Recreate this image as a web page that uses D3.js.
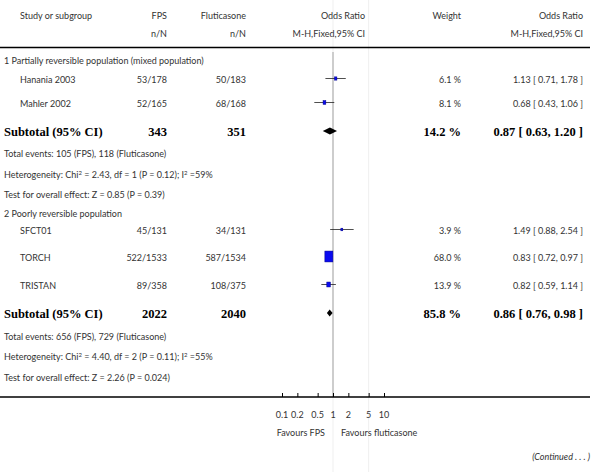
<!DOCTYPE html>
<html>
<head>
<meta charset="utf-8">
<script src="https://cdn.jsdelivr.net/npm/d3@7"></script>
<style>
  body { margin: 0; background: #fff; }
  text { font-family: "Liberation Sans Narrow", "Lato", sans-serif; font-size: 9px; fill: #333; }
  text.bold { font-family: "Liberation Serif", serif; font-weight: bold; font-size: 12.5px; fill: #000; }
</style>
</head>
<body>
<svg id="chart" width="600" height="472"></svg>
<script>
// study level data
var studies = ["Hanania 2003", "Mahler 2002", "SFCT01", "TORCH", "TRISTAN"];
var studyGroup = [1, 1, 2, 2, 2];
var fpsEvents = ["53/178", "52/165", "45/131", "522/1533", "89/358"];
var fluEvents = ["50/183", "68/168", "34/131", "587/1534", "108/375"];
var oddsRatio = [1.13, 0.68, 1.49, 0.83, 0.82];
var ciLow = [0.71, 0.43, 0.88, 0.72, 0.59];
var ciHigh = [1.78, 1.06, 2.54, 0.97, 1.14];
var weights = [6.1, 8.1, 3.9, 68.0, 13.9];

// subgroup totals
var groupNames = ["1 Partially reversible population (mixed population)", "2 Poorly reversible population"];
var subFps = [343, 2022];
var subFlu = [351, 2040];
var subOR = [0.87, 0.86];
var subLow = [0.63, 0.76];
var subHigh = [1.20, 0.98];
var subWeight = [14.2, 85.8];
var totalEvents = ["Total events: 105 (FPS), 118 (Fluticasone)", "Total events: 656 (FPS), 729 (Fluticasone)"];
var hetChi = ["2.43", "4.40"];
var hetDf = [1, 2];
var hetP = ["0.12", "0.11"];
var hetI2 = ["59%", "55%"];
var overallZ = ["Test for overall effect: Z = 0.85 (P = 0.39)", "Test for overall effect: Z = 2.26 (P = 0.024)"];

// axis
var tickValues = [0.1, 0.2, 0.5, 1, 2, 5, 10];
var tickLabels = ["0.1", "0.2", "0.5", "1", "2", "5", "10"];

var svg = d3.select("#chart");

// columns
var col = { group: 4, name: 20, fps: 167, flu: 246, orHead: 365, weight: 461, orText: 583 };

// vertical positions of the rows
var rowsY = {
    group: [61, 214],
    study: [80, 104, 231, 258, 286],
    subtotal: [132, 314],
    events: [154, 337],
    het: [175, 357],
    test: [195, 378]
};
var axisY = 397;

var x = d3.scaleLog().domain([0.1, 10]).range([282, 384]);
var boxSize = d3.scaleSqrt().domain([0, 68]).range([0, 8]);

// faint page lines
svg.selectAll(".faint")
    .data([1, 5])
    .enter()
    .append("line")
    .attr("x1", d => x(d)).attr("x2", d => x(d))
    .attr("y1", 0).attr("y2", 472)
    .attr("stroke", "#efefef")
    .attr("stroke-width", 1);

// line of no effect
svg.append("line")
    .attr("x1", x(1)).attr("x2", x(1))
    .attr("y1", 52).attr("y2", axisY)
    .attr("stroke", "#cdcdcd")
    .attr("stroke-width", 2);

// header
function txt(xp, yp, s, anchor, cls) {
    return svg.append("text")
        .attr("x", xp).attr("y", yp)
        .attr("dy", "0.35em")
        .attr("text-anchor", anchor || "start")
        .attr("class", cls || null)
        .text(s);
}
txt(col.name, 16, "Study or subgroup");
txt(col.fps, 16, "FPS", "end");
txt(col.flu, 16, "Fluticasone", "end");
txt(col.orHead, 16, "Odds Ratio", "end");
txt(col.weight, 16, "Weight", "end");
txt(col.orText, 16, "Odds Ratio", "end");
txt(col.fps, 34, "n/N", "end");
txt(col.flu, 34, "n/N", "end");
txt(col.orHead, 34, "M-H,Fixed,95% CI", "end");
txt(col.orText, 34, "M-H,Fixed,95% CI", "end");

svg.append("line")
    .attr("x1", 0).attr("x2", 590)
    .attr("y1", 47.5).attr("y2", 47.5)
    .attr("stroke", "#000").attr("stroke-width", 1.3);

// group labels
groupNames.forEach((g, i) => txt(col.group, rowsY.group[i], g));

// study rows
studies.forEach((s, i) => {
    var y = rowsY.study[i];
    txt(col.name, y, s);
    txt(col.fps, y, fpsEvents[i], "end");
    txt(col.flu, y, fluEvents[i], "end");
    txt(col.weight, y, weights[i].toFixed(1) + " %", "end");
    txt(col.orText, y, oddsRatio[i].toFixed(2) + " [ " + ciLow[i].toFixed(2) + ", " + ciHigh[i].toFixed(2) + " ]", "end");
});

var marks = svg.append("g");
marks.selectAll(".ci")
    .data(studies)
    .enter()
    .append("line")
    .attr("x1", (d, i) => x(ciLow[i]))
    .attr("x2", (d, i) => x(ciHigh[i]))
    .attr("y1", (d, i) => rowsY.study[i] - 1.5)
    .attr("y2", (d, i) => rowsY.study[i] - 1.5)
    .attr("stroke", "#222")
    .attr("stroke-width", 0.8);

marks.selectAll(".box")
    .data(studies)
    .enter()
    .append("rect")
    .attr("x", (d, i) => x(oddsRatio[i]) - boxSize(weights[i]) / 2)
    .attr("y", (d, i) => rowsY.study[i] - 1.5 - boxSize(weights[i]) * 0.68)
    .attr("width", (d, i) => boxSize(weights[i]))
    .attr("height", (d, i) => boxSize(weights[i]) * 1.36)
    .attr("fill", "#0a0af0")
    .attr("stroke", "#00008b")
    .attr("stroke-width", 0.5);

// subtotals
subOR.forEach((o, i) => {
    var y = rowsY.subtotal[i];
    txt(4, y, "Subtotal (95% CI)", "start", "bold");
    txt(col.fps, y, subFps[i], "end", "bold");
    txt(col.flu, y, subFlu[i], "end", "bold");
    txt(col.weight, y, subWeight[i].toFixed(1) + " %", "end", "bold");
    txt(col.orText, y, o.toFixed(2) + " [ " + subLow[i].toFixed(2) + ", " + subHigh[i].toFixed(2) + " ]", "end", "bold");

    var yc = y - 1;
    svg.append("path")
        .attr("d", "M" + x(subLow[i]) + "," + yc + " L" + x(o) + "," + (yc - 3.5) +
            " L" + x(subHigh[i]) + "," + yc + " L" + x(o) + "," + (yc + 3.5) + "Z")
        .attr("fill", "#000");

    txt(4, rowsY.events[i], totalEvents[i]);

    var het = txt(4, rowsY.het[i], "Heterogeneity: Chi");
    het.append("tspan").attr("baseline-shift", "super").attr("font-size", "6px").text("2");
    het.append("tspan").text(" = " + hetChi[i] + ", df = " + hetDf[i] + " (P = " + hetP[i] + "); I");
    het.append("tspan").attr("baseline-shift", "super").attr("font-size", "6px").text("2");
    het.append("tspan").text(" =" + hetI2[i]);

    txt(4, rowsY.test[i], overallZ[i]);
});

// bottom axis
svg.append("line")
    .attr("x1", 0).attr("x2", 590)
    .attr("y1", axisY).attr("y2", axisY)
    .attr("stroke", "#000").attr("stroke-width", 1.3);

var axis = d3.axisTop(x).tickValues(tickValues).tickSize(4).tickFormat("");
svg.append("g")
    .attr("transform", "translate(0," + axisY + ")")
    .call(axis)
    .call(g => g.select(".domain").remove())
    .call(g => g.selectAll(".tick line").attr("stroke", "#000"));

svg.selectAll(".ticklab")
    .data(tickValues)
    .enter()
    .append("text")
    .attr("x", d => x(d))
    .attr("y", 415)
    .attr("dy", "0.35em")
    .attr("text-anchor", "middle")
    .text((d, i) => tickLabels[i]);

txt(x(1) - 8, 433, "Favours FPS", "end");
txt(x(1) + 8, 433, "Favours fluticasone", "start");

txt(590, 457, "(Continued . . . )", "end").style("font-style", "italic");
</script>
</body>
</html>
